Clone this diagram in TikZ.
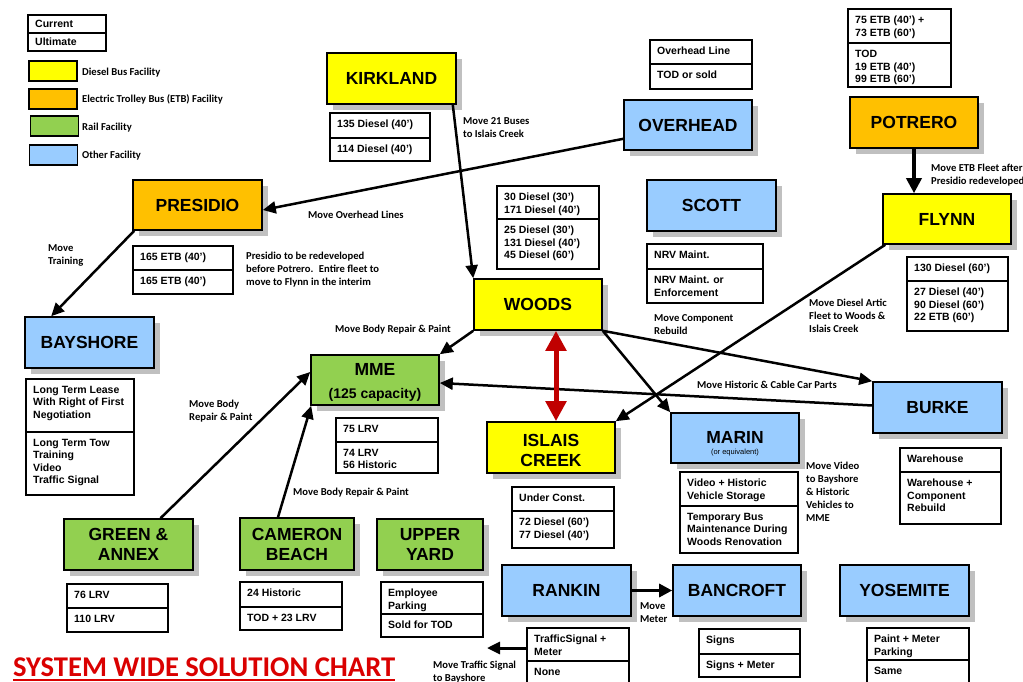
\documentclass[tikz,border=0pt]{standalone}
\usepackage{fontspec}
\setmainfont{Liberation Sans}
\newfontfamily\calibfont{Carlito}
\usetikzlibrary{arrows.meta,shadows,calc}

\definecolor{dieselyellow}{RGB}{255,255,0}
\definecolor{etborange}{RGB}{255,192,0}
\definecolor{railgreen}{RGB}{146,208,80}
\definecolor{otherblue}{RGB}{153,204,255}
\definecolor{arrowred}{RGB}{192,0,0}
\definecolor{titlered}{RGB}{218,0,0}
\definecolor{shadowgrey}{RGB}{192,192,192}

\newcommand\infofont{\bfseries\fontsize{10.5}{12.5}\selectfont}
\newcommand\notefont{\calibfont\bfseries\fontsize{10.6}{13}\selectfont}
\newcommand\boxfont{\bfseries\fontsize{17.5}{20}\selectfont}

% two-cell status table: current (upper) and ultimate (lower) use
% #1 name, #2 left, #3 top, #4 right, #5 divider, #6 bottom, #7 upper text, #8 lower text
\newcommand\infobox[8]{%
  \coordinate (#1-nw) at (#2,#3);
  \coordinate (#1-se) at (#4,#6);
  \draw[infoline, fill=white] (#1-nw) rectangle (#1-se);
  \draw[infoline] (#2,#5) -- (#4,#5);
  \node[infotext] (#1-upper) at (#2+7,#3+7) {#7};
  \node[infotext] (#1-lower) at (#2+7,#5+7) {#8};
}

\tikzset{
  facility/.style={draw=black, line width=1.6pt, inner sep=0pt, align=center,
    font=\boxfont,
    drop shadow={shadow xshift=6pt, shadow yshift=-6pt, fill=shadowgrey, opacity=1}},
  diesel/.style={facility, fill=dieselyellow},
  etb/.style={facility, fill=etborange},
  rail/.style={facility, fill=railgreen},
  other/.style={facility, fill=otherblue},
  boxsize/.style 2 args={minimum width=#1pt, minimum height=#2pt},
  boxline/.style={anchor=base, inner sep=0pt},
  swatch/.style={draw=black, line width=1.6pt, inner sep=0pt,
    minimum width=48pt, minimum height=20pt},
  infoline/.style={draw=black, line width=1.3pt},
  infotext/.style={anchor=north west, inner sep=0pt, align=left, font=\infofont},
  legendkey/.style={anchor=base west, inner sep=0pt, font=\infofont},
  legendtext/.style={anchor=base west, inner sep=0pt, font=\notefont},
  note/.style={anchor=north west, inner sep=0pt, align=left, font=\notefont},
  move/.style={draw=black, line width=2.5pt, -{Triangle[length=13pt,width=12pt]}},
  redarrow/.style={draw=arrowred, line width=5pt,
    {Triangle[length=20pt,width=20pt]}-{Triangle[length=20pt,width=20pt]}},
}

\begin{document}
\begin{tikzpicture}[x=1pt,y=-1pt]
\useasboundingbox (0,0) rectangle (1023,682);
\fill[white] (0,0) rectangle (1023,682);
\clip (0,0) rectangle (1023,682);

% ---------- legend ----------
\draw[infoline, fill=white] (28,15) rectangle (106,51);
\draw[infoline] (28,33) -- (106,33);
\node[legendkey] (key-current) at (35,28) {Current};
\node[legendkey] (key-ultimate) at (35,46) {Ultimate};

\node[swatch, fill=dieselyellow] (sw-diesel) at (53,71) {};
\node[swatch, fill=etborange] (sw-etb) at (53,99) {};
\node[swatch, fill=railgreen] (sw-rail) at (54.5,126) {};
\node[swatch, fill=otherblue] (sw-other) at (53.5,155) {};
\node[legendtext] (lg-diesel) at (82,75.3) {Diesel Bus Facility};
\node[legendtext] (lg-etb) at (82,102.3) {Electric Trolley Bus (ETB) Facility};
\node[legendtext] (lg-rail) at (82,130.3) {Rail Facility};
\node[legendtext] (lg-other) at (82,158.3) {Other Facility};

% ---------- facilities ----------
\node[diesel, boxsize={129}{51}] (kirkland) at (391.5,78.5) {KIRKLAND};
\node[other,  boxsize={128}{50}] (overhead) at (688,125) {OVERHEAD};
\node[other,  boxsize={129}{51}] (scott) at (711.5,205.5) {SCOTT};
\node[etb,    boxsize={128}{51}] (potrero) at (914,122.5) {POTRERO};
\node[diesel, boxsize={128}{50}] (flynn) at (947,219) {FLYNN};
\node[etb,    boxsize={129}{50}] (presidio) at (197.5,205) {PRESIDIO};
\node[other,  boxsize={129}{51}] (bayshore) at (89.5,342.5) {BAYSHORE};
\node[diesel, boxsize={128}{51}] (woods) at (538,304.5) {WOODS};
\node[rail,   boxsize={128}{50}] (mme) at (375,380) {};
\node[boxline, font=\boxfont] (mme-name) at (375,375.5) {MME};
\node[boxline, font=\bfseries\fontsize{14}{16}\selectfont] (mme-cap) at (375,398) {(125 capacity)};
\node[diesel, boxsize={128}{51}] (islais) at (551,447.5) {};
\node[boxline, font=\boxfont] (islais-name1) at (551,446.3) {ISLAIS};
\node[boxline, font=\boxfont] (islais-name2) at (551,466.3) {CREEK};
\node[other,  boxsize={128}{50}] (marin) at (735,438) {};
\node[boxline, font=\boxfont] (marin-name) at (735,443.5) {MARIN};
\node[boxline, font=\fontsize{7.5}{9}\selectfont] (marin-note) at (735,454) {(or equivalent)};
\node[other,  boxsize={129}{51}] (burke) at (937.5,407.5) {BURKE};
\node[rail,   boxsize={129}{51}] (green) at (128.5,544.5) {GREEN \&\\ANNEX};
\node[rail,   boxsize={114}{52}] (cameron) at (297,544) {CAMERON\\BEACH};
\node[rail,   boxsize={106}{51}] (upper) at (430,544.5) {UPPER\\YARD};
\node[other,  boxsize={129}{51}] (rankin) at (566.5,590.5) {RANKIN};
\node[other,  boxsize={128}{51}] (bancroft) at (737,590.5) {BANCROFT};
\node[other,  boxsize={129}{51}] (yosemite) at (904.5,590.5) {YOSEMITE};

% ---------- current / ultimate tables ----------
\infobox{kirkland-info}{330}{113}{430}{138}{161}{135 Diesel (40')}{114 Diesel (40')}
\infobox{overhead-info}{650}{40}{752}{64}{89}{Overhead Line}{TOD or sold}
\infobox{potrero-info}{848}{9}{951}{43}{87}{75 ETB (40') +\\73 ETB (60')}{TOD\\19 ETB (40')\\99 ETB (60')}
\infobox{scott-info}{647}{244}{763}{269}{303}{NRV Maint.}{NRV Maint. or\\Enforcement}
\infobox{woods-info}{497}{186}{599}{219}{269}{30 Diesel (30')\\171 Diesel (40')}{25 Diesel (30')\\131 Diesel (40')\\45 Diesel (60')}
\infobox{flynn-info}{907}{257}{1008}{281}{331}{130 Diesel (60')}{27 Diesel (40')\\90 Diesel (60')\\22 ETB (60')}
\infobox{presidio-info}{133}{246}{233}{270}{294}{165 ETB (40')}{165 ETB (40')}
\infobox{bayshore-info}{26}{379}{134}{432}{495}{Long Term Lease\\With Right of First\\Negotiation}{Long Term Tow\\Training\\Video\\Traffic Signal}
\infobox{mme-info}{336}{418}{438}{442}{473}{75 LRV}{74 LRV\\56 Historic}
\infobox{islais-info}{512}{487}{614}{511}{548}{Under Const.}{72 Diesel (60')\\77 Diesel (40')}
\infobox{marin-info}{680}{472}{798}{506}{553}{Video + Historic\\Vehicle Storage}{Temporary Bus\\Maintenance During\\Woods Renovation}
\infobox{burke-info}{900}{448}{1001}{472}{524}{Warehouse}{Warehouse +\\Component\\Rebuild}
\infobox{green-info}{67}{584}{168}{608}{632}{76 LRV}{110 LRV}
\infobox{cameron-info}{240}{582}{342}{607}{630}{24 Historic}{TOD + 23 LRV}
\infobox{upper-info}{381}{582}{483}{614}{637}{Employee\\Parking}{Sold for TOD}
\infobox{rankin-info}{527}{628}{629}{661}{700}{TrafficSignal +\\Meter}{None}
\infobox{bancroft-info}{699}{629}{800}{654}{677}{Signs}{Signs + Meter}
\infobox{yosemite-info}{867}{628}{969}{660}{700}{Paint + Meter\\Parking}{Same}

% ---------- moves ----------
\draw[move] ($(kirkland.south east)+(-4,0)$) -- (woods.north west);
\draw[move] ($(overhead.south west)+(0,-12)$) -- ($(presidio.east)+(0,5)$);
\draw[move] ($(presidio.south west)+(2,0)$) -- ($(bayshore.north west)+(27,0)$);
\draw[move, line width=3.5pt, -{Triangle[length=15pt,width=15pt]}]
  (potrero.south) -- (potrero.south |- flynn.north);
\draw[move] ($(flynn.south west)+(3,0)$) -- (islais.north east);
\draw[move] (woods.south west) -- (mme.north east);
\draw[move] (woods.south east) -- (burke.north west);
\draw[move] (woods.south east) -- (marin.north west);
\draw[move] ($(burke.west)+(0,-2)$) -- ($(mme.east)+(0,3)$);
\draw[move] ($(green.north)+(32,0)$) -- ($(mme.west)+(0,-8)$);
\draw[move] ($(cameron.north)+(-19,0)$) -- ($(mme.south west)+(1,0)$);
\draw[redarrow] ($(woods.south)+(18,0)$) -- ($(islais.north)+(5,0)$);
\draw[move, line width=3pt, -{Triangle[length=13pt,width=13pt]}] (rankin.east) -- (bancroft.west);
\coordinate (rankin-info-w) at (527,648);
\coordinate (signal-end) at (487,648);
\draw[move, line width=3pt] (rankin-info-w) -- (signal-end);

% ---------- move notes ----------
\node[note] (n-kirkland) at (463,117.5) {Move 21 Buses\\to Islais Creek};
\node[note] (n-overhead) at (308,210.5) {Move Overhead Lines};
\node[note] (n-presidio) at (246,251.5) {Presidio to be redeveloped\\before Potrero.~ Entire fleet to\\move to Flynn in the interim};
\node[note] (n-training) at (48,244.5) {Move\\Training};
\node[note] (n-etb) at (931,163.5) {Move ETB Fleet after\\Presidio redeveloped};
\node[note] (n-artic) at (809,298.5) {Move Diesel Artic\\Fleet to Woods \&\\Islais Creek};
\node[note] (n-component) at (654,314.5) {Move Component\\Rebuild};
\node[note] (n-body1) at (335,324.5) {Move Body Repair \& Paint};
\node[note] (n-cable) at (697,380.5) {Move Historic \& Cable Car Parts};
\node[note] (n-body2) at (189,399.5) {Move Body\\Repair \& Paint};
\node[note] (n-body3) at (293,487.5) {Move Body Repair \& Paint};
\node[note] (n-video) at (806,461.5) {Move Video\\to Bayshore\\\& Historic\\Vehicles to\\MME};
\node[note] (n-meter) at (640,602.5) {Move\\Meter};
\node[note] (n-signal) at (433,660.5) {Move Traffic Signal\\to Bayshore};

% ---------- title ----------
\node[anchor=base west, inner sep=0pt, text=titlered,
  font=\calibfont\bfseries\fontsize{28.6}{32}\selectfont] (title) at (13,676)
  {SYSTEM WIDE SOLUTION CHART};
\draw[titlered, line width=2pt] ($(title.base west)+(0,3.5)$) -- ($(title.base east)+(0,3.5)$);
\end{tikzpicture}
\end{document}
